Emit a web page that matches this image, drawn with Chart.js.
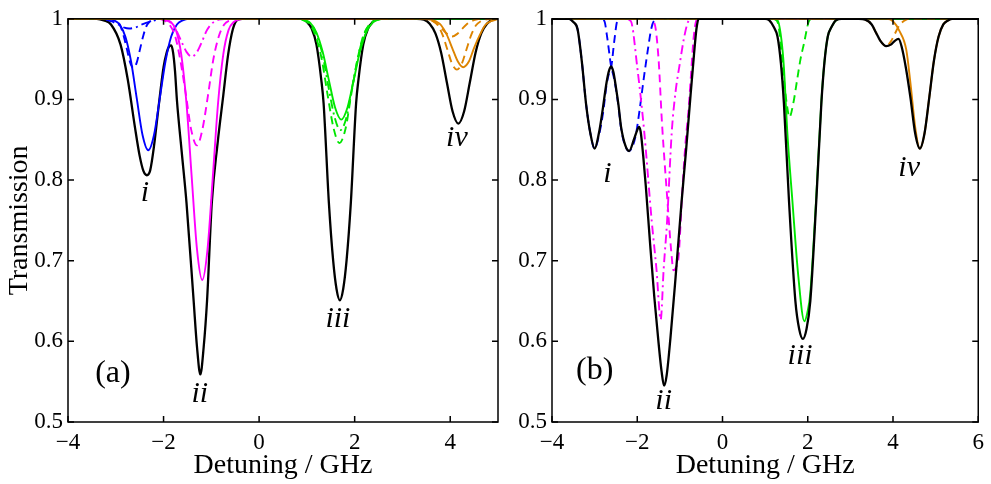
<!DOCTYPE html>
<html>
<head>
<meta charset="utf-8">
<script src="https://cdn.jsdelivr.net/npm/chart.js@4"></script>
<style>
  body { margin: 0; background: #fff; }
  #wrap { position: relative; width: 991px; height: 484px; }
  canvas { position: absolute; top: 0; }
</style>
</head>
<body>
<div id="wrap">
  <canvas id="chartA" width="505" height="484" style="left:0"></canvas>
  <canvas id="chartB" width="491" height="484" style="left:500px"></canvas>
</div>
<script>
// ---- panel (a) : [detuning GHz, transmission] ----
const aBlack = [[-4,1],[-3.4,1],[-3.25,0.998],[-3.1,0.993],[-2.9,0.968],[-2.75,0.925],[-2.6,0.866],[-2.5,0.830],[-2.42,0.811],[-2.35,0.806],[-2.28,0.812],[-2.2,0.842],[-2.1,0.893],[-2.0,0.940],[-1.94,0.957],[-1.88,0.966],[-1.84,0.967],[-1.80,0.958],[-1.76,0.935],[-1.72,0.899],[-1.62,0.835],[-1.52,0.772],[-1.37,0.650],[-1.3,0.593],[-1.23,0.559],[-1.16,0.593],[-1.09,0.650],[-0.99,0.772],[-0.87,0.845],[-0.75,0.905],[-0.65,0.955],[-0.55,0.987],[-0.45,0.999],[-0.35,1],
  [0.9,1],[1.0,0.996],[1.1,0.988],[1.2,0.968],[1.3,0.925],[1.35,0.895],[1.46,0.772],[1.55,0.700],[1.62,0.665],[1.69,0.651],[1.76,0.665],[1.83,0.700],[1.92,0.772],[2.03,0.895],[2.08,0.925],[2.18,0.968],[2.28,0.988],[2.38,0.996],[2.48,1],
  [3.3,1],[3.45,0.999],[3.57,0.994],[3.69,0.982],[3.81,0.958],[3.93,0.921],[4.05,0.885],[4.17,0.870],[4.29,0.885],[4.41,0.921],[4.53,0.958],[4.65,0.982],[4.77,0.994],[4.89,0.999],[5,1]];
const aBlue = [[-4,1],[-3.16,1],[-3.04,0.998],[-2.92,0.993],[-2.80,0.978],[-2.68,0.947],[-2.56,0.901],[-2.44,0.856],[-2.32,0.837],[-2.20,0.856],[-2.08,0.901],[-1.96,0.947],[-1.84,0.978],[-1.72,0.993],[-1.60,0.998],[-1.48,1],[5,1]];
const aBlueDash = [[-4,1],[-3.12,1],[-3.05,0.999],[-2.98,0.997],[-2.91,0.992],[-2.84,0.980],[-2.77,0.963],[-2.70,0.946],[-2.63,0.939],[-2.56,0.946],[-2.49,0.963],[-2.42,0.980],[-2.35,0.992],[-2.28,0.997],[-2.21,0.999],[-2.14,1],[5,1]];
const aBlueDot = [[-4,1],[-3.3,1],[-3.1,0.997],[-2.95,0.993],[-2.82,0.989],[-2.72,0.988],[-2.6,0.989],[-2.45,0.993],[-2.25,0.997],[-2.0,1],[5,1]];
const aMag = [[-4,1],[-2.07,1],[-1.96,0.999],[-1.85,0.996],[-1.74,0.986],[-1.63,0.956],[-1.52,0.895],[-1.41,0.803],[-1.30,0.714],[-1.19,0.676],[-1.08,0.714],[-0.97,0.803],[-0.86,0.895],[-0.75,0.956],[-0.64,0.986],[-0.53,0.996],[-0.42,0.999],[-0.31,1],[5,1]];
const aMagDash = [[-4,1],[-2.22,1],[-2.11,1],[-1.99,0.998],[-1.88,0.993],[-1.76,0.979],[-1.65,0.949],[-1.53,0.905],[-1.42,0.862],[-1.30,0.843],[-1.19,0.862],[-1.07,0.905],[-0.96,0.949],[-0.84,0.979],[-0.73,0.993],[-0.61,0.998],[-0.50,1],[-0.38,1],[5,1]];
const aMagDot = [[-4,1],[-2.15,1],[-2.04,0.9995],[-1.94,0.998],[-1.83,0.994],[-1.73,0.985],[-1.62,0.971],[-1.52,0.959],[-1.41,0.953],[-1.30,0.959],[-1.20,0.971],[-1.10,0.985],[-0.99,0.994],[-0.89,0.998],[-0.78,0.9995],[-0.67,1],[5,1]];
const aGreen = [[-4,1],[0.81,1],[0.94,0.999],[1.07,0.995],[1.20,0.983],[1.33,0.959],[1.46,0.924],[1.59,0.890],[1.72,0.875],[1.85,0.890],[1.98,0.924],[2.11,0.959],[2.24,0.983],[2.37,0.995],[2.50,0.999],[2.63,1],[5,1]];
const aGreenDash = [[-4,1],[0.81,1],[0.93,0.998],[1.06,0.993],[1.18,0.979],[1.31,0.950],[1.43,0.907],[1.56,0.864],[1.68,0.846],[1.81,0.864],[1.93,0.907],[2.06,0.950],[2.18,0.979],[2.31,0.993],[2.43,0.998],[2.56,1],[5,1]];
const aGreenDot = [[-4,1],[0.83,1],[0.95,0.998],[1.08,0.994],[1.20,0.981],[1.33,0.955],[1.45,0.916],[1.58,0.878],[1.70,0.862],[1.83,0.878],[1.95,0.916],[2.08,0.955],[2.20,0.981],[2.33,0.994],[2.45,0.998],[2.58,1],[5,1]];
const aOrange = [[-4,1],[3.47,1],[3.58,0.999],[3.70,0.997],[3.81,0.992],[3.93,0.980],[4.04,0.964],[4.16,0.947],[4.27,0.940],[4.39,0.947],[4.50,0.964],[4.62,0.980],[4.73,0.992],[4.85,0.997],[4.96,0.999],[5,1]];
const aOrangeDash = [[-4,1],[3.44,1],[3.54,0.999],[3.64,0.997],[3.74,0.992],[3.84,0.980],[3.94,0.962],[4.04,0.944],[4.14,0.937],[4.24,0.944],[4.34,0.962],[4.44,0.980],[4.54,0.992],[4.64,0.997],[4.74,0.999],[4.84,1],[5,1]];
const aOrangeDash2 = [[-4,1],[3.44,1],[3.54,0.999],[3.64,0.997],[3.74,0.993],[3.84,0.987],[3.94,0.981],[4.04,0.978],[4.14,0.981],[4.24,0.987],[4.34,0.993],[4.44,0.997],[4.54,0.999],[4.64,1],[5,1]];

// ---- panel (b) ----
const bBlack = [[-4,1],[-3.6,1],[-3.5,0.996],[-3.4,0.987],[-3.3,0.947],[-3.2,0.894],[-3.1,0.858],[-3.0,0.839],[-2.9,0.858],[-2.82,0.884],[-2.72,0.921],[-2.66,0.936],[-2.61,0.941],[-2.56,0.934],[-2.5,0.915],[-2.44,0.893],[-2.38,0.866],[-2.28,0.843],[-2.19,0.836],[-2.08,0.850],[-2.0,0.862],[-1.96,0.866],[-1.92,0.860],[-1.86,0.830],[-1.80,0.793],[-1.70,0.722],[-1.60,0.655],[-1.50,0.598],[-1.43,0.563],[-1.37,0.545],[-1.31,0.558],[-1.22,0.605],[-1.10,0.680],[-0.96,0.773],[-0.85,0.840],[-0.75,0.905],[-0.67,0.955],[-0.61,0.988],[-0.56,1],
  [1.0,1],[1.1,0.998],[1.2,0.990],[1.29,0.978],[1.37,0.945],[1.44,0.896],[1.56,0.774],[1.71,0.650],[1.80,0.615],[1.885,0.603],[1.97,0.615],[2.06,0.650],[2.2,0.774],[2.32,0.896],[2.39,0.945],[2.47,0.978],[2.56,0.990],[2.66,0.998],[2.8,1],
  [3.2,1],[3.35,0.999],[3.5,0.993],[3.6,0.983],[3.7,0.973],[3.84,0.966],[3.95,0.968],[4.05,0.973],[4.13,0.975],[4.2,0.966],[4.3,0.940],[4.41,0.902],[4.52,0.858],[4.63,0.839],[4.74,0.858],[4.85,0.902],[4.96,0.948],[5.07,0.978],[5.18,0.993],[5.29,0.998],[5.4,1],[6,1]];
const bBlueDash1 = [[-4,1],[-3.6,1],[-3.5,0.996],[-3.4,0.987],[-3.3,0.947],[-3.2,0.894],[-3.1,0.858],[-3.0,0.839],[-2.9,0.855],[-2.8,0.884],[-2.72,0.918],[-2.66,0.933],[-2.61,0.940],[-2.54,0.972],[-2.47,0.997],[-2.4,1],[6,1]];
const bBlueDash2 = [[-4,1],[-2.85,1],[-2.77,0.997],[-2.70,0.975],[-2.61,0.940],[-2.56,0.930],[-2.5,0.913],[-2.44,0.891],[-2.38,0.864],[-2.28,0.842],[-2.19,0.836],[-2.1,0.843],[-2.03,0.857],[-1.95,0.885],[-1.85,0.925],[-1.75,0.962],[-1.67,0.988],[-1.6,0.998],[-1.5,1],[6,1]];
const bMagDot = [[-4,1],[-2.3,1],[-2.15,0.997],[-2.0,0.940],[-1.84,0.862],[-1.66,0.749],[-1.55,0.690],[-1.45,0.627],[-1.38,0.690],[-1.30,0.749],[-1.19,0.860],[-1.1,0.910],[-1.0,0.945],[-0.9,0.977],[-0.8,0.997],[-0.7,1],[6,1]];
const bMagDash = [[-4,1],[-1.75,1],[-1.6,0.995],[-1.5,0.950],[-1.42,0.871],[-1.3,0.780],[-1.2,0.710],[-1.15,0.688],[-1.09,0.692],[-1.03,0.705],[-0.95,0.780],[-0.87,0.845],[-0.80,0.885],[-0.74,0.930],[-0.68,0.975],[-0.62,0.997],[-0.56,1],[6,1]];
const bGreen = [[-4,1],[1.1,1],[1.29,0.998],[1.38,0.975],[1.44,0.940],[1.52,0.860],[1.64,0.774],[1.78,0.680],[1.92,0.625],[2.0,0.638],[2.06,0.660],[2.2,0.780],[2.32,0.898],[2.39,0.946],[2.47,0.978],[2.56,0.990],[2.66,0.998],[2.8,1],[6,1]];
const bGreenDash = [[-4,1],[1.2,1],[1.3,0.995],[1.38,0.960],[1.45,0.920],[1.52,0.890],[1.57,0.878],[1.66,0.895],[1.75,0.924],[1.83,0.950],[1.91,0.969],[2.02,0.996],[2.1,1],[6,1]];
const bOrange = [[-4,1],[3.85,1],[4.0,0.997],[4.15,0.985],[4.31,0.962],[4.41,0.920],[4.52,0.866],[4.63,0.839],[4.74,0.858],[4.85,0.902],[4.96,0.948],[5.07,0.978],[5.18,0.993],[5.29,0.998],[5.4,1],[6,1]];
const bOrangeDash = [[-4,1],[3.2,1],[3.35,0.999],[3.5,0.993],[3.6,0.983],[3.7,0.973],[3.84,0.966],[3.95,0.972],[4.03,0.980],[4.15,0.992],[4.31,0.999],[4.4,1],[6,1]];

// tick values and text labels (data units)
const yTicks = [0.5, 0.6, 0.7, 0.8, 0.9, 1];
const dipLabelsA = [['i', -2.39, 0.784], ['ii', -1.24, 0.535], ['iii', 1.65, 0.627], ['iv', 4.14, 0.852]];
const dipLabelsB = [['i', -2.70, 0.807], ['ii', -1.38, 0.526], ['iii', 1.82, 0.582], ['iv', 4.38, 0.815]];
const panelTagA = ['(a)', -3.06, 0.56];
const panelTagB = ['(b)', -3.0, 0.564];

const SERIF = '"Liberation Serif", "Times New Roman", serif';
const BLACK = '#000000', BLUE = '#0000ff', MAG = '#ff00ff', GREEN = '#00e600', ORANGE = '#dd8400';
const dashes = { solid: [], dash: [8, 5], dashdot: [9, 4, 2, 4] };

function series(pts, color, style, order) {
  return {
    data: pts.map(p => ({ x: p[0], y: p[1] })),
    borderColor: color,
    borderWidth: color === BLACK ? 2.3 : 1.9,
    borderDash: dashes[style],
    pointRadius: 0,
    fill: false,
    cubicInterpolationMode: 'monotone',
    order: order
  };
}

function minus(v) {
  return v < 0 ? '\u2212' + Math.abs(v) : String(v);
}

const frameTicks = {
  id: 'frameTicks',
  afterDatasetsDraw(chart, args, opts) {
    const { ctx, chartArea: a, scales } = chart;
    ctx.save();
    ctx.strokeStyle = '#000';
    ctx.lineWidth = 1.5;
    ctx.strokeRect(a.left, a.top, a.right - a.left, a.bottom - a.top);
    const len = 6;
    ctx.beginPath();
    scales.x.ticks.forEach(t => {
      const px = scales.x.getPixelForValue(t.value);
      ctx.moveTo(px, a.bottom); ctx.lineTo(px, a.bottom - len);
      ctx.moveTo(px, a.top); ctx.lineTo(px, a.top + len);
    });
    scales.y.ticks.forEach(t => {
      const py = scales.y.getPixelForValue(t.value);
      ctx.moveTo(a.left, py); ctx.lineTo(a.left + len, py);
      ctx.moveTo(a.right, py); ctx.lineTo(a.right - len, py);
    });
    ctx.stroke();
    ctx.fillStyle = '#000';
    ctx.textAlign = 'center';
    ctx.textBaseline = 'middle';
    ctx.font = 'italic 30px ' + SERIF;
    opts.dips.forEach(l => {
      ctx.fillText(l[0], scales.x.getPixelForValue(l[1]), scales.y.getPixelForValue(l[2]));
    });
    ctx.font = '32px ' + SERIF;
    ctx.fillText(opts.tag[0], scales.x.getPixelForValue(opts.tag[1]), scales.y.getPixelForValue(opts.tag[2]));
    ctx.restore();
  }
};

function makeChart(id, datasets, xMax, yWidth, pad, dips, tag, showYTitle) {
  return new Chart(document.getElementById(id), {
    type: 'line',
    data: { datasets: datasets },
    plugins: [frameTicks],
    options: {
      responsive: false,
      animation: false,
      devicePixelRatio: 1,
      layout: { padding: pad },
      plugins: {
        legend: { display: false },
        tooltip: { enabled: false },
        frameTicks: { dips: dips, tag: tag }
      },
      scales: {
        x: {
          type: 'linear', min: -4, max: xMax,
          grid: { display: false, drawTicks: false },
          border: { display: false },
          ticks: {
            stepSize: 2, includeBounds: false, color: '#000', padding: 7, maxRotation: 0,
            font: { family: SERIF, size: 23 },
            callback: v => minus(v)
          },
          title: {
            display: true, text: 'Detuning / GHz', color: '#000',
            font: { family: SERIF, size: 28 }, padding: { top: 0, bottom: 2 }
          },
          afterFit(s) { s.height = 62; }
        },
        y: {
          type: 'linear', min: 0.5, max: 1,
          grid: { display: false, drawTicks: false },
          border: { display: false },
          afterBuildTicks(s) { s.ticks = yTicks.map(v => ({ value: v })); },
          ticks: {
            color: '#000', padding: 5,
            font: { family: SERIF, size: 23 },
            callback: v => String(Math.round(v * 10) / 10)
          },
          title: {
            display: showYTitle, text: 'Transmission', color: '#000',
            font: { family: SERIF, size: 28 }, padding: { top: 3, bottom: 0 }
          },
          afterFit(s) { s.width = yWidth; }
        }
      }
    }
  });
}

makeChart('chartA', [
  series(aBlack, BLACK, 'solid', 10),
  series(aBlue, BLUE, 'solid', 4),
  series(aBlueDash, BLUE, 'dash', 4),
  series(aBlueDot, BLUE, 'dashdot', 4),
  series(aMag, MAG, 'solid', 3),
  series(aMagDash, MAG, 'dash', 3),
  series(aMagDot, MAG, 'dashdot', 3),
  series(aGreen, GREEN, 'solid', 2),
  series(aGreenDash, GREEN, 'dash', 2),
  series(aGreenDot, GREEN, 'dashdot', 2),
  series(aOrange, ORANGE, 'solid', 1),
  series(aOrangeDash, ORANGE, 'dash', 1),
  series(aOrangeDash2, ORANGE, 'dash', 1)
], 5, 68, { left: 0, right: 7, top: 14, bottom: 0 }, dipLabelsA, panelTagA, true);

makeChart('chartB', [
  series(bBlack, BLACK, 'solid', 0),
  series(bBlueDash1, BLUE, 'dash', 4),
  series(bBlueDash2, BLUE, 'dash', 4),
  series(bMagDot, MAG, 'dashdot', 3),
  series(bMagDash, MAG, 'dash', 3),
  series(bGreen, GREEN, 'solid', 2),
  series(bGreenDash, GREEN, 'dash', 2),
  series(bOrange, ORANGE, 'solid', 1),
  series(bOrangeDash, ORANGE, 'dash', 1)
], 6, 52, { left: 0, right: 8, top: 15, bottom: 0 }, dipLabelsB, panelTagB, false);
</script>
</body>
</html>
